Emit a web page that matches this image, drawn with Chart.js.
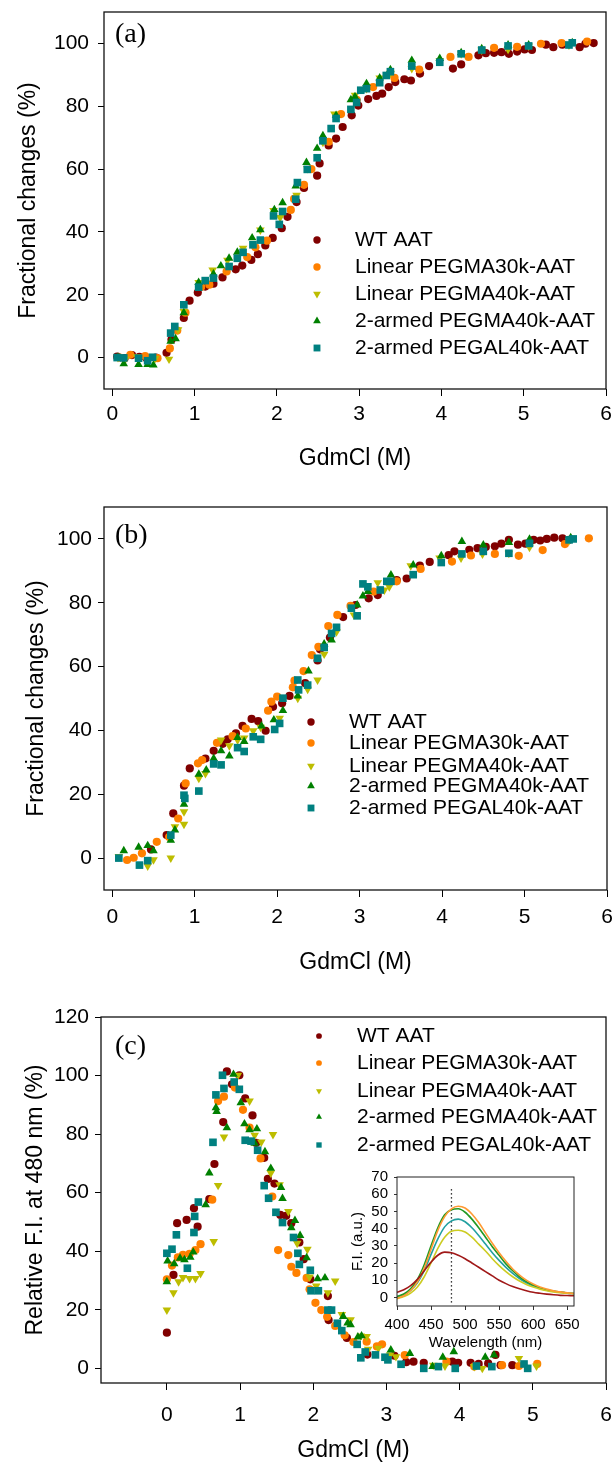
<!DOCTYPE html>
<html>
<head>
<meta charset="utf-8">
<script src="https://cdn.jsdelivr.net/npm/chart.js@4.4.1/dist/chart.umd.min.js"></script>
<style>
  html, body { margin: 0; padding: 0; background: #fff; }
  #wrap { position: relative; width: 616px; height: 1464px; overflow: hidden; }
  canvas { position: absolute; }
</style>
</head>
<body>
<div id="wrap">
  <canvas id="panelA" width="616" height="480" style="left:0;top:0"></canvas>
  <canvas id="panelB" width="616" height="490" style="left:0;top:490px"></canvas>
  <canvas id="panelC" width="616" height="474" style="left:0;top:990px"></canvas>
  <canvas id="inset" width="276" height="200" style="left:340px;top:1160px"></canvas>
</div>
<script>
// ---------- series ----------
const seriesNames = ['WT AAT', 'Linear PEGMA30k-AAT', 'Linear PEGMA40k-AAT', '2-armed PEGMA40k-AAT', '2-armed PEGAL40k-AAT'];

// ---------- tick labels ----------
const gdmTicks = [0, 1, 2, 3, 4, 5, 6];
const fracTicks = [0, 20, 40, 60, 80, 100];
const fiTicks = [0, 20, 40, 60, 80, 100, 120];
const waveTicks = [400, 450, 500, 550, 600, 650];
const insetTicks = [0, 10, 20, 30, 40, 50, 60, 70];

// ---------- (a) fractional change, [GdmCl M, %] ----------
const aWT = [[0.06,0.3],[0.15,-0.2],[0.24,0.8],[0.33,0.2],[0.42,-0.3],[0.53,0],[0.66,1.5],[0.72,5.7],[0.87,12.6],[0.94,18.1],[1.04,20.7],[1.13,22.6],[1.23,23.5],[1.34,25.5],[1.50,28.1],[1.58,29.3],[1.69,31.1],[1.77,32.9],[1.86,35.7],[1.95,38.1],[2.06,41.2],[2.13,44.8],[2.24,49.5],[2.33,54],[2.49,57.9],[2.52,61.8],[2.63,67.5],[2.72,69.7],[2.80,73.4],[2.91,77.1],[2.99,80.2],[3.11,82.3],[3.21,83.3],[3.28,84],[3.36,86.1],[3.44,87.7],[3.55,88.6],[3.63,88.2],[3.74,90.4],[3.85,92.8],[4.14,92],[4.24,93.3],[4.45,96.2],[4.54,96.9],[4.64,97],[4.73,97.2],[4.82,96.7],[4.92,97.4],[5.01,98.1],[5.10,97.9],[5.27,99.6],[5.36,98.8],[5.47,99.6],[5.68,98.8],[5.75,99.9],[5.85,100.1]];
const aL30 = [[0.09,0],[0.22,0.9],[0.40,0.5],[0.55,-0.2],[0.70,2.9],[0.79,8.6],[0.89,14.3],[1.08,22.5],[1.18,23.2],[1.39,27.4],[1.64,32],[1.74,35.1],[1.88,37.2],[2.17,47],[2.21,50.5],[2.33,55],[2.42,60],[2.63,68.7],[2.78,77.5],[2.97,82],[3.17,86.1],[3.43,89],[3.73,91.7],[4.11,95.7],[4.33,95.7],[4.64,98.6],[4.92,98.9],[5.21,99.9],[5.46,100.1],[5.77,100.6]];
const aL40 = [[0.07,0],[0.16,-0.5],[0.30,0.3],[0.44,-0.8],[0.52,-0.3],[0.69,-0.5],[0.80,8.9],[0.87,14.7],[1.05,23.9],[1.22,27.9],[1.40,31],[1.59,34.8],[1.80,40.6],[1.96,46.8],[2.04,44.6],[2.24,51.7],[2.37,60.2],[2.56,68.5],[2.70,77.5],[2.95,83.5],[3.09,85.6],[3.25,89],[3.38,90.5],[3.64,92],[3.98,94.6],[4.24,96.7],[4.49,97.9],[4.81,98.1],[5.06,99.2],[5.55,99.5]];
const aA40 = [[0.07,0],[0.14,-2],[0.32,-2.2],[0.43,-2.2],[0.50,-2.4],[0.71,5.2],[0.77,6.0],[0.87,14.3],[1.05,23.9],[1.23,26.6],[1.32,29.2],[1.42,31.6],[1.52,33.5],[1.70,38.1],[1.80,40.7],[1.97,47.1],[2.07,49.3],[2.23,54.6],[2.36,62.1],[2.49,66.6],[2.56,70.6],[2.72,77.1],[2.90,82.1],[2.95,83],[3.09,87.2],[3.25,89],[3.38,91.6],[3.64,94.6],[3.98,95.2],[4.24,97],[4.49,98.3],[4.81,99.5],[5.06,99.5],[5.59,100.2]];
const aAL40 = [[0.06,0],[0.14,-0.1],[0.32,-0.2],[0.43,-1],[0.49,0.1],[0.71,7.8],[0.76,9.9],[0.87,16.8],[1.05,22.4],[1.13,24.5],[1.23,25.3],[1.42,29],[1.52,31.6],[1.59,33.5],[1.71,35.9],[1.80,37.4],[1.96,45.1],[2.03,42.4],[2.07,46.5],[2.23,50.4],[2.25,55.7],[2.37,59.9],[2.49,63.6],[2.56,69],[2.66,72.9],[2.72,76.1],[2.90,79],[2.97,81.2],[3.02,85.1],[3.09,85.6],[3.25,87.5],[3.33,89.8],[3.38,91],[3.64,92.8],[3.98,94],[4.24,96.7],[4.49,97.9],[4.81,99.2],[5.06,99.2],[5.55,99.5],[5.59,100.2]];

// ---------- (b) fractional change, [GdmCl M, %] ----------
const bWT = [[0.47,2.7],[0.66,7.2],[0.74,14],[0.87,22.7],[0.94,28.1],[1.13,31.2],[1.23,33.6],[1.34,35.8],[1.40,37.2],[1.50,39.1],[1.58,41.4],[1.69,43.6],[1.77,42.9],[1.86,39.9],[1.95,47.4],[2.06,48.5],[2.15,50.8],[2.34,54.8],[2.49,61.9],[2.52,65.4],[2.64,69.1],[2.80,75.5],[2.95,79.3],[3.11,81.4],[3.22,82.4],[3.45,87.1],[3.57,87.6],[3.73,91.6],[3.85,92.8],[4.08,94.9],[4.15,96.1],[4.33,96.6],[4.43,97.1],[4.53,97.5],[4.64,97.7],[4.72,98.5],[4.81,99.7],[4.92,98.2],[5.01,98.5],[5.11,99.7],[5.19,99.5],[5.27,100],[5.36,100.4],[5.46,100.2],[5.54,99.7]];
const bL30 = [[0.18,-0.6],[0.26,0.1],[0.36,1.5],[0.54,5.1],[0.69,6.6],[0.80,12.4],[0.89,23.4],[1.04,29.7],[1.09,30.7],[1.27,36.1],[1.46,38.2],[1.62,40.6],[1.89,46.2],[1.93,49],[2.00,50.6],[2.19,53.5],[2.21,55.6],[2.32,58.6],[2.42,63.6],[2.50,66.2],[2.62,72.7],[2.73,76.2],[2.89,79],[3.17,83.5],[3.45,86.7],[3.74,90.6],[4.12,92.9],[4.35,94.8],[4.64,95.3],[4.93,94.7],[5.22,96.5],[5.49,98.4],[5.78,100.2]];
const bL40 = [[0.08,0.5],[0.43,-2.5],[0.50,-0.5],[0.71,0],[0.76,9.8],[0.87,10.6],[0.87,14.5],[1.05,25],[1.13,26.5],[1.32,37],[1.42,35.2],[1.52,37],[1.60,37.6],[1.71,39.9],[1.80,41],[2.03,43.8],[2.25,50.1],[2.37,52.9],[2.49,55.8],[2.57,63.9],[2.72,70.9],[2.93,76.2],[3.22,86.3],[3.30,84],[3.36,85],[3.62,91.6],[3.97,94],[4.23,94],[4.49,95.3],[4.81,95.5],[5.06,97.4],[5.54,99.5]];
const bA40 = [[0.14,2.3],[0.32,3.4],[0.43,3.9],[0.50,2.3],[0.71,5.6],[0.76,8.8],[0.87,16.9],[1.05,26.3],[1.14,27.6],[1.23,31.2],[1.32,33.6],[1.42,32],[1.52,37.8],[1.60,36.5],[1.81,41.4],[1.96,43.3],[2.07,46.2],[2.25,50.8],[2.38,58.6],[2.57,67.1],[2.66,68.3],[2.97,79.3],[3.04,82.1],[3.10,83.5],[3.38,88.7],[3.65,91.8],[3.99,94.7],[4.24,99.2],[4.50,98.1],[4.81,98.9],[5.06,99.9],[5.56,100.4]];
const bAL40 = [[0.08,0],[0.33,-2.2],[0.43,-0.8],[0.71,7.2],[0.87,19.7],[0.88,18.7],[1.05,21],[1.23,29.5],[1.32,29.2],[1.52,34.6],[1.60,33.4],[1.71,38],[1.80,37.2],[1.97,40.3],[2.03,42.2],[2.07,50.1],[2.25,55.8],[2.26,52.7],[2.37,54.2],[2.49,62.6],[2.57,66],[2.66,70.4],[2.72,72.3],[2.90,78.3],[2.97,75.9],[3.04,85.9],[3.10,85],[3.25,84],[3.33,86.7],[3.38,86.7],[3.65,88.8],[3.99,92.6],[4.24,95.3],[4.50,96.1],[4.81,95.5],[5.06,98.6],[5.54,99.7],[5.59,100]];

// ---------- (c) relative fluorescence at 480 nm, [GdmCl M, %] ----------
const cWT = [[0,12.2],[0.09,31.9],[0.14,49.6],[0.27,50.7],[0.37,54.7],[0.42,48.4],[0.58,57.8],[0.65,69.8],[0.77,84.1],[0.82,101.4],[0.89,97],[0.99,100.1],[1.07,92.2],[1.17,86.4],[1.22,77],[1.33,71.9],[1.38,64.7],[1.47,63.1],[1.55,52.4],[1.63,52.1],[1.70,49.6],[1.81,43],[1.87,37.3],[1.96,30.4],[2.20,24.7],[2.21,16.5],[2.46,10.4],[2.74,4.7],[3.11,4.3],[3.27,2.1],[3.37,2.3],[3.51,1.9],[3.90,2.3],[3.98,1.9],[4.15,1.9],[4.26,1.5],[4.39,1.7],[4.49,4.6],[4.56,1.1],[4.72,1.1]];
const cL30 = [[0,30.4],[0.07,35.1],[0.15,37.9],[0.22,38.8],[0.31,39.1],[0.39,40.4],[0.46,42.4],[0.62,57.6],[0.70,91.3],[0.78,92.8],[0.93,95.9],[1.04,88.3],[1.13,82.2],[1.28,71.7],[1.44,58.7],[1.52,40.4],[1.66,38.7],[1.70,34.7],[1.77,32.6],[1.91,30.9],[1.95,27],[2.03,22.4],[2.11,19.9],[2.19,17.6],[2.30,14.5],[2.43,11.3],[2.55,9],[2.73,9.1],[2.87,7.5],[2.94,8.2],[3.25,4.5],[3.82,2.3],[4.20,0.6],[4.58,1.1],[4.81,0.8],[5.06,1.5]];
const cL40 = [[0,19.9],[0.09,25.8],[0.16,29.6],[0.22,31],[0.31,30.7],[0.39,30.7],[0.46,32.4],[0.64,43.3],[0.70,62.5],[0.78,79],[0.97,100.1],[1.13,91.3],[1.20,79.6],[1.29,77.3],[1.42,66.7],[1.45,79.9],[1.54,62.7],[1.66,53.6],[1.78,42.7],[1.92,40.7],[1.95,31.2],[2.04,28.1],[2.20,25.8],[2.30,29.8],[2.39,18.4],[2.51,16.6],[2.65,11.1],[2.73,10.9],[2.75,6.5],[2.89,6.9],[3.05,4.6],[3.13,4],[3.64,1.1],[3.80,0.8],[4.20,0.6],[4.31,0],[4.81,3.4],[5.05,0.8]];
const cA40 = [[0,29.6],[0.01,36.7],[0.10,35.7],[0.18,37.6],[0.24,37.1],[0.32,37.9],[0.36,39.7],[0.53,55.9],[0.58,66.7],[0.67,89],[0.68,87.7],[0.82,82.2],[0.91,100.4],[1.01,90.7],[1.06,83.5],[1.13,81.5],[1.20,76.9],[1.23,81.8],[1.34,74],[1.42,68.3],[1.56,61.8],[1.58,58],[1.70,48],[1.75,50.5],[1.82,45.4],[1.91,37.8],[2.06,30.6],[2.16,30.9],[2.41,17.7],[2.47,15.5],[2.51,14.9],[2.61,10.7],[2.66,11.1],[3.06,6.3],[3.32,5.1],[3.63,0.6],[3.77,3.8],[3.92,5.7],[4.35,3.8],[4.47,4.6]];
const cAL40 = [[0,39.3],[0.07,40.7],[0.13,45.6],[0.28,34.2],[0.37,46.4],[0.38,51.9],[0.43,56.8],[0.63,77.2],[0.67,93.4],[0.76,100.1],[0.78,95.6],[0.92,97.8],[0.99,95.3],[1.07,77.9],[1.15,77.6],[1.24,74.5],[1.33,62.4],[1.39,58.1],[1.49,53.3],[1.58,49.8],[1.73,44.7],[1.79,39.3],[1.81,35.5],[1.96,33.5],[1.97,26.5],[2.07,26.5],[2.20,19.9],[2.25,19.9],[2.33,15.4],[2.39,12.9],[2.60,8.2],[2.65,3.6],[2.71,5.6],[2.85,4.6],[2.98,3.8],[3.02,2.9],[3.20,1.4],[3.51,0],[3.71,0.6],[3.94,0],[4.23,0.8],[4.44,0.6],[4.88,1.5],[4.93,0]];

// ---------- inset: emission spectra, F.I. (a.u.) vs wavelength (nm) ----------
const wavelengths = [400,410,420,430,440,450,460,470,480,490,500,510,520,530,540,550,560,570,580,590,600,610,620,630,640,650,660];
const specWT  = [3,4.5,6.8,10.5,15.5,20.5,24.5,26.3,26,24.5,22.5,20,17.5,15,12.5,10,8,6.3,5,3.9,3,2.4,1.9,1.5,1.2,1.1,1];
const specL30 = [-0.5,1,4,9,17,28,39,47,51.5,53,52,48.5,43.5,37.5,31.5,26,21,16.5,13,10,7.8,6,4.8,3.8,3.2,2.7,2.3];
const specL40 = [-0.8,0.5,2.5,6,12,20,28.5,35,38.5,39,38,35,31,27,22.5,18.5,15,12,9.5,7.5,6,4.8,3.9,3.2,2.7,2.4,2.1];
const specA40 = [0.5,2,5,10.5,19,30,40.5,48,51,51.5,49.5,45.5,40.5,35,29.5,24.5,19.5,15.5,12,9.2,7.2,5.6,4.5,3.7,3.1,2.6,2.3];
const specAL40 = [0,1.5,4,8.5,15.5,25,34,41,44.5,45.5,44,40.5,36,31,26,21.5,17.5,14,11,8.5,6.7,5.2,4.2,3.4,2.9,2.5,2.2];
const markerWavelength = 480;
const markerSpan = [-3, 63];

// ---------- styling ----------
const SANS = '"Liberation Sans", Arial, Helvetica, sans-serif';
const SERIF = '"Liberation Serif", "Times New Roman", serif';
const markColors = ['#800000', '#ff8000', '#bdbd00', '#008000', '#008080'];
const markShapes = ['circle', 'circle', 'triangle', 'triangle', 'rect'];
const markRotations = [0, 0, 180, 0, 0];
const markRadii = [3.8, 3.8, 4.6, 4.6, 5];
const lineColors = ['#a01818', '#ff9a33', '#cccc22', '#229922', '#22a0a0'];

Chart.defaults.font.family = SANS;
Chart.defaults.color = '#000';

// box around the plotting area
const framePlugin = {
  id: 'frame',
  afterDatasetsDraw(chart, args, o) {
    const { left, top, right, bottom } = chart.chartArea;
    const ctx = chart.ctx;
    ctx.save();
    ctx.strokeStyle = o.color || '#111';
    ctx.lineWidth = o.width || 1.2;
    ctx.strokeRect(left, top, right - left, bottom - top);
    ctx.restore();
  }
};

// panel letter
const tagPlugin = {
  id: 'tag',
  afterDatasetsDraw(chart, args, o) {
    if (!o.text) return;
    const ctx = chart.ctx;
    ctx.save();
    ctx.fillStyle = '#000';
    ctx.font = o.font;
    ctx.textAlign = 'left';
    ctx.textBaseline = 'middle';
    ctx.fillText(o.text, o.x, o.y);
    ctx.restore();
  }
};

// series key inside the plot
const keyPlugin = {
  id: 'key',
  afterDatasetsDraw(chart, args, o) {
    if (!o.rows) return;
    const ctx = chart.ctx;
    ctx.save();
    chart.data.datasets.forEach((ds, i) => {
      const y = o.rows[i];
      ctx.fillStyle = ds.pointBackgroundColor;
      Chart.helpers.drawPoint(ctx, {
        pointStyle: ds.pointStyle,
        rotation: ds.pointRotation || 0,
        radius: ds.pointRadius * o.scale,
        borderWidth: 0
      }, o.markX, y);
      ctx.fillStyle = '#000';
      ctx.font = o.font;
      ctx.textAlign = 'left';
      ctx.textBaseline = 'middle';
      ctx.fillText(ds.label, o.textX, y);
    });
    ctx.restore();
  }
};

function scatterSets(groups, sizeScale) {
  return groups.map((pts, i) => ({
    label: seriesNames[i],
    data: pts.map(([x, y]) => ({ x, y })),
    pointStyle: markShapes[i],
    pointRotation: markRotations[i],
    pointRadius: markRadii[i] * sizeScale,
    pointBackgroundColor: markColors[i],
    pointBorderColor: markColors[i],
    pointBorderWidth: 0,
    showLine: false,
    order: 5 - i
  }));
}

function fixedTicks(values) {
  return s => { s.ticks = values.map(v => ({ value: v })); };
}

function panel(id, groups, p) {
  const canvas = document.getElementById(id);
  return new Chart(canvas, {
    type: 'scatter',
    data: { datasets: scatterSets(groups, p.markScale) },
    plugins: [framePlugin, tagPlugin, keyPlugin],
    options: {
      responsive: false,
      animation: false,
      events: [],
      layout: { padding: { left: 0, top: p.top, right: canvas.width - p.right, bottom: 0 } },
      scales: {
        x: {
          type: 'linear',
          min: p.xMin, max: 6,
          afterBuildTicks: fixedTicks(gdmTicks),
          afterFit: s => { s.height = canvas.height - p.bottom; s.paddingLeft = 0; s.paddingRight = 0; },
          border: { display: false },
          grid: { display: true, drawOnChartArea: false, drawTicks: true, tickLength: 7, color: '#000', lineWidth: 1 },
          ticks: { color: '#000', font: { size: 21 }, padding: p.xTickPad, maxRotation: 0, autoSkip: false, callback: v => String(v) },
          title: { display: true, text: 'GdmCl (M)', color: '#000', font: { size: 23 }, padding: { top: 0, bottom: p.xTitlePad } }
        },
        y: {
          type: 'linear',
          min: p.yMin, max: p.yMax,
          afterBuildTicks: fixedTicks(p.yTicks),
          afterFit: s => { s.width = p.left; s.paddingTop = 0; s.paddingBottom = 0; },
          border: { display: false },
          grid: { display: true, drawOnChartArea: false, drawTicks: true, tickLength: 6, color: '#000', lineWidth: 1 },
          ticks: { color: '#000', font: { size: 21 }, padding: p.yTickPad, autoSkip: false, callback: v => String(v) },
          title: { display: true, text: p.yTitle, color: '#000', font: { size: 23 }, padding: { top: p.yTitlePad, bottom: 0 } }
        }
      },
      plugins: {
        legend: { display: false },
        tooltip: { enabled: false },
        frame: { color: '#111', width: 1.3 },
        tag: { text: p.tag, x: 115, y: p.tagY, font: '28px ' + SERIF },
        key: p.key
      }
    }
  });
}

panel('panelA', [aWT, aL30, aL40, aA40, aAL40], {
  left: 104, right: 606, top: 12, bottom: 389, xMin: -0.1,
  yMin: -10, yMax: 110, yTicks: fracTicks, yTitle: 'Fractional changes (%)',
  xTickPad: 6, xTitlePad: 8, yTitlePad: 15, yTickPad: 9, markScale: 1.08,
  tag: '(a)', tagY: 35,
  key: { markX: 317, textX: 355, rows: [240, 267, 294, 321, 348], scale: 0.9, font: '21px ' + SANS }
});

panel('panelB', [bWT, bL30, bL40, bA40, bAL40], {
  left: 104, right: 607, top: 17, bottom: 400, xMin: -0.1,
  yMin: -10, yMax: 110, yTicks: fracTicks, yTitle: 'Fractional changes (%)',
  xTickPad: 8, xTitlePad: 4, yTitlePad: 23, yTickPad: 6, markScale: 1.08,
  tag: '(b)', tagY: 46,
  key: { markX: 311, textX: 349, rows: [232, 253, 276, 296, 318], scale: 0.9, font: '21px ' + SANS }
});

panel('panelC', [cWT, cL30, cL40, cA40, cAL40], {
  left: 101, right: 606, top: 27, bottom: 393, xMin: -0.9,
  yMin: -5, yMax: 120, yTicks: fiTicks, yTitle: 'Relative F.I. at 480 nm (%)',
  xTickPad: 13, xTitlePad: 0, yTitlePad: 22, yTickPad: 6, markScale: 1.08,
  tag: '(c)', tagY: 57,
  key: { markX: 319, textX: 357, rows: [46, 73, 101, 127, 155], scale: 0.7, font: '21px ' + SANS }
});

// ---------- inset spectra ----------
(function () {
  const canvas = document.getElementById('inset');
  const spectra = [specWT, specL30, specL40, specA40, specAL40];
  const sets = spectra.map((vals, i) => ({
    label: seriesNames[i],
    data: wavelengths.map((w, k) => ({ x: w, y: vals[k] })),
    borderColor: lineColors[i],
    borderWidth: 1.6,
    pointRadius: 0,
    tension: 0.4,
    cubicInterpolationMode: 'monotone',
    fill: false
  }));
  sets.push({
    label: '480 nm',
    data: markerSpan.map(v => ({ x: markerWavelength, y: v })),
    borderColor: '#000',
    borderWidth: 1.3,
    borderDash: [1.3, 2.7],
    pointRadius: 0,
    tension: 0,
    fill: false
  });
  new Chart(canvas, {
    type: 'line',
    data: { datasets: sets },
    plugins: [framePlugin],
    options: {
      responsive: false,
      animation: false,
      events: [],
      layout: { padding: { left: 0, top: 17, right: 42, bottom: 0 } },
      scales: {
        x: {
          type: 'linear', min: 400, max: 660,
          afterBuildTicks: fixedTicks(waveTicks),
          afterFit: s => { s.height = 54; s.paddingLeft = 0; s.paddingRight = 0; },
          border: { display: false },
          grid: { display: true, drawOnChartArea: false, drawTicks: true, tickLength: 4, color: '#333', lineWidth: 1 },
          ticks: { color: '#000', font: { size: 15 }, padding: 6, maxRotation: 0, autoSkip: false, callback: v => String(v) },
          title: { display: true, text: 'Wavelength (nm)', color: '#000', font: { size: 15 }, padding: { top: 0, bottom: 8 } }
        },
        y: {
          type: 'linear', min: -5, max: 70,
          afterBuildTicks: fixedTicks(insetTicks),
          afterFit: s => { s.width = 57; s.paddingTop = 0; s.paddingBottom = 0; },
          border: { display: false },
          grid: { display: true, drawOnChartArea: false, drawTicks: true, tickLength: 3, color: '#333', lineWidth: 1 },
          ticks: { color: '#000', font: { size: 15 }, padding: 6, autoSkip: false, callback: v => String(v) },
          title: { display: true, text: 'F.I. (a.u.)', color: '#000', font: { size: 15 }, padding: { top: 9, bottom: 0 } }
        }
      },
      plugins: {
        legend: { display: false },
        tooltip: { enabled: false },
        frame: { color: '#222', width: 1 }
      }
    }
  });
})();
</script>
</body>
</html>
